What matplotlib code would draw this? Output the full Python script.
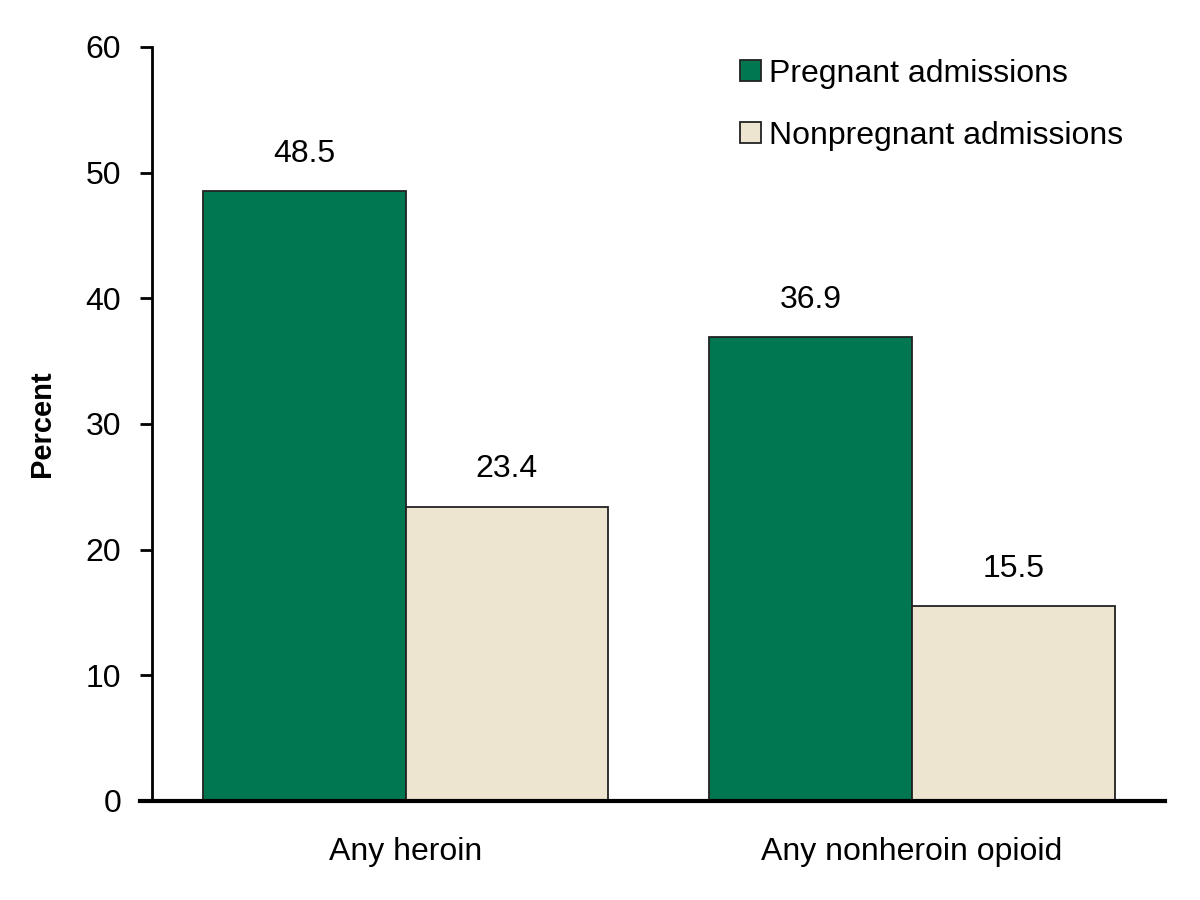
import matplotlib
matplotlib.use('Agg')
import matplotlib.pyplot as plt
import numpy as np

plt.rcParams['font.family'] = ['Liberation Sans', 'DejaVu Sans']

categories = ['Any heroin', 'Any nonheroin opioid']
series_names = ['Pregnant admissions', 'Nonpregnant admissions']
pregnant = [48.5, 36.9]
nonpregnant = [23.4, 15.5]
yticks = [0, 10, 20, 30, 40, 50, 60]

colors = ['#007750', '#EEE5D0']

fig = plt.figure(figsize=(12, 9), dpi=100)
ax = fig.add_axes([0.127, 0.11, 0.844, 0.838])

x = np.arange(len(categories))
w = 0.4
b1 = ax.bar(x - w / 2, pregnant, w, color=colors[0], edgecolor='#222222',
            linewidth=1.3, label=series_names[0])
b2 = ax.bar(x + w / 2, nonpregnant, w, color=colors[1], edgecolor='#222222',
            linewidth=1.3, label=series_names[1])

for bars, vals in ((b1, pregnant), (b2, nonpregnant)):
    for r, v in zip(bars, vals):
        ax.text(r.get_x() + r.get_width() / 2, v + 1.8, '{:.1f}'.format(v),
                ha='center', va='bottom', fontsize=23)

ax.set_xlim(-0.5, 1.5)
ax.set_ylim(0, 60)
ax.set_yticks(yticks)
ax.set_xticks(x)
ax.set_xticklabels(categories, fontsize=23)
ax.tick_params(axis='y', labelsize=23, length=8.5, width=2, direction='out', pad=14)
ax.tick_params(axis='x', length=0, pad=26)
ax.set_ylabel('Percent', fontsize=21, fontweight='bold')
ax.yaxis.set_label_coords(-0.095, 0.5)

ax.spines['top'].set_visible(False)
ax.spines['right'].set_visible(False)
ax.spines['left'].set_linewidth(2)
ax.spines['bottom'].set_linewidth(3)
ax.spines['bottom'].set_bounds(-0.524, 1.5)

leg = ax.legend(loc='upper right', bbox_to_anchor=(0.987, 1.022), frameon=False,
                fontsize=23, handlelength=0.65, handleheight=0.65,
                handletextpad=0.25, labelspacing=1.0)

fig.savefig('out.png', dpi=100)
